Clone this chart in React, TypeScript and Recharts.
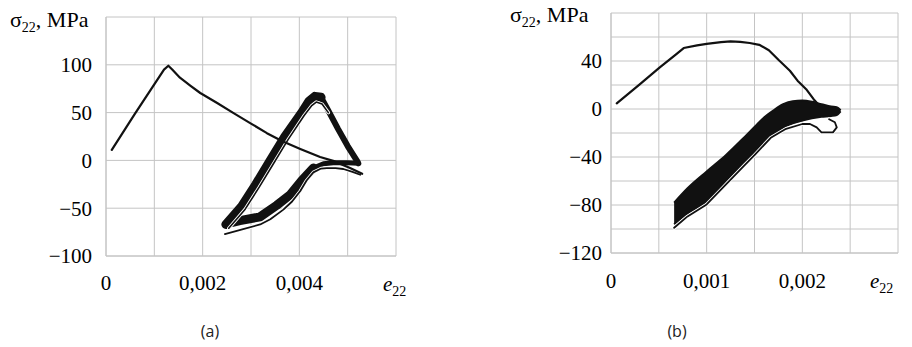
import React from 'react';
import { ComposedChart, Line, Area, XAxis, YAxis, CartesianGrid } from 'recharts';

// ---------- chart (a) ----------
const xTicksA = [0, 0.001, 0.002, 0.003, 0.004, 0.005, 0.006];
const xLabelsA = ['0', '', '0,002', '', '0,004', '', ''];
const yTicksA = [-100, -50, 0, 50, 100, 150];
const yLabelsA = ['−100', '−50', '0', '50', '100', ''];

const monoAx = [0.00012, 0.0006, 0.0012, 0.00129, 0.00137, 0.00153, 0.00175, 0.00195, 0.0023, 0.00264, 0.003, 0.00333, 0.00365, 0.00402, 0.00443, 0.0047, 0.00505, 0.0053];
const monoAy = [11, 49, 95, 99, 95, 86.5, 78, 70.5, 60, 49.5, 38.5, 28.5, 20, 12, 3.5, -0.5, -8, -14];

// cyclic band (many cycles overlapping): lower return + rising branch
const bandUpX = [0.00429, 0.00405, 0.00381, 0.00353, 0.00319, 0.00277, 0.00253, 0.00248, 0.00281, 0.0031, 0.0034, 0.0037, 0.00405, 0.0042, 0.00432, 0.00445];
const bandUpY = [-8, -21, -36, -47, -59, -63, -66, -67, -48, -25, 0, 25, 50, 62, 67, 66];
// falling branch from the peak to the right tip
const bandDownX = [0.00432, 0.00445, 0.0046, 0.0048, 0.005, 0.0052, 0.00522];
const bandDownY = [67, 66, 52, 33, 15, -1, -3];
// return along zero from the tip
const bandRetX = [0.00522, 0.005, 0.0047, 0.0045, 0.00429];
const bandRetY = [-3, -2.5, -2.5, -3.5, -8];

const innerAx = [0.00254, 0.00288, 0.00317, 0.00347, 0.00377, 0.0041, 0.00425, 0.00435, 0.00447, 0.0046];
const innerAy = [-71, -51, -28, -3, 22, 47, 57, 61, 59, 50];

const outerAx = [0.00246, 0.0028, 0.00319, 0.0034, 0.00367, 0.00385, 0.00402, 0.00415, 0.00429, 0.00445, 0.00457, 0.00475, 0.00491, 0.0051, 0.00526];
const outerAy = [-77, -72.5, -67, -61.5, -51.5, -43, -32, -21, -12.5, -8.5, -8, -8, -9, -12, -15];

// ---------- chart (b) ----------
const xTicksB = [0, 0.0005, 0.001, 0.0015, 0.002, 0.0025, 0.003];
const xLabelsB = ['0', '', '0,001', '', '0,002', '', ''];
const yTicksB = [-120, -100, -80, -60, -40, -20, 0, 20, 40, 60, 80];
const yLabelsB = ['−120', '', '−80', '', '−40', '', '0', '', '40', '', ''];

const monoBx = [0.00006, 0.0003, 0.00051, 0.00068, 0.00076, 0.0009, 0.001, 0.00115, 0.00125, 0.00135, 0.00145, 0.00155, 0.00165, 0.00175, 0.00187, 0.00195, 0.00204, 0.00212, 0.00218];
const monoBy = [4.7, 20.5, 34.7, 45.5, 50.8, 53, 54.2, 55.8, 56.3, 56, 55, 53.5, 49, 41, 31.9, 23.6, 16.5, 8, 2.8];

const bandBx = [0.00066, 0.0008, 0.001, 0.0012, 0.0014, 0.0015, 0.0016, 0.0017, 0.0018, 0.0019, 0.002, 0.0021, 0.0022, 0.0023, 0.00236, 0.0024];
const bandBlo = [-96, -87, -77, -60, -44, -36, -28, -21, -15.5, -12, -9.7, -7.8, -6.5, -5.8, -5, -2];
const bandBhi = [-78, -66, -52, -38.5, -23, -15, -7, -1, 4, 6.5, 7, 6, 4, 2, 1.5, -1];

const lowBx = [0.00066, 0.0008, 0.001, 0.0012, 0.0014, 0.0015, 0.00167, 0.00183, 0.002, 0.00208, 0.00215, 0.0022, 0.00232, 0.00236, 0.00234, 0.00228];
const lowBy = [-99, -89.5, -79.5, -63, -46.5, -38.5, -24, -16.5, -12.5, -12.5, -15.3, -19.5, -19.5, -15.3, -11, -8.5];

const zip = (xs: number[], ys: number[]) => xs.map((x, i) => ({ x, y: ys[i] }));

const monoA = zip(monoAx, monoAy);
const bandUp = zip(bandUpX, bandUpY);
const bandDown = zip(bandDownX, bandDownY);
const bandRet = zip(bandRetX, bandRetY);
const innerA = zip(innerAx, innerAy);
const outerA = zip(outerAx, outerAy);

const monoB = zip(monoBx, monoBy);
const bandB = bandBx.map((x, i) => ({ x, r: [bandBlo[i], bandBhi[i]] }));
const lowB = zip(lowBx, lowBy);

const GRID = '#c4c4c4';
const INK = '#111';
const SERIF = 'Liberation Serif';
const tickStyle = { fontSize: 21, fill: '#000', fontFamily: SERIF };

const lbl = (ticks: number[], labels: string[]) => (v: number) => {
  const i = ticks.indexOf(v);
  return i >= 0 ? labels[i] : '';
};

const common = { dot: false, isAnimationActive: false, type: 'linear' as const, activeDot: false, strokeLinejoin: 'round' as const, strokeLinecap: 'round' as const };

export default function App() {
  return (
    <div style={{ position: 'absolute', left: 0, top: 0, width: 912, height: 347, background: '#fff' }}>
      <div style={{ position: 'absolute', left: 0, top: 0 }}>
        <ComposedChart width={420} height={300} margin={{ top: 17, right: 24, bottom: 14, left: 0 }}>
          <CartesianGrid stroke={GRID} strokeWidth={1} />
          <XAxis type="number" dataKey="x" domain={[0, 0.006]} ticks={xTicksA} interval={0} allowDataOverflow
            tickFormatter={lbl(xTicksA, xLabelsA)} tickLine={false} tickSize={0} tickMargin={19} height={30}
            axisLine={{ stroke: GRID }} tick={tickStyle} />
          <YAxis type="number" dataKey="y" domain={[-100, 150]} ticks={yTicksA} interval={0} allowDataOverflow
            tickFormatter={lbl(yTicksA, yLabelsA)} tickLine={false} tickSize={0} tickMargin={14} width={106}
            axisLine={{ stroke: GRID }} tick={tickStyle} />
          <Line {...common} data={bandUp} dataKey="y" stroke={INK} strokeWidth={9} />
          <Line {...common} data={bandDown} dataKey="y" stroke={INK} strokeWidth={6} />
          <Line {...common} data={bandRet} dataKey="y" stroke={INK} strokeWidth={5} />
          <Line {...common} data={innerA} dataKey="y" stroke="#fff" strokeWidth={3.4} />
          <Line {...common} data={innerA} dataKey="y" stroke={INK} strokeWidth={1.6} />
          <Line {...common} data={outerA} dataKey="y" stroke="#fff" strokeWidth={3.4} />
          <Line {...common} data={outerA} dataKey="y" stroke={INK} strokeWidth={1.8} />
          <Line {...common} data={monoA} dataKey="y" stroke={INK} strokeWidth={2.2} />
        </ComposedChart>
      </div>
      <div style={{ position: 'absolute', left: 500, top: 0 }}>
        <ComposedChart width={412} height={300} data={bandB} margin={{ top: 13, right: 14, bottom: 17, left: 0 }}>
          <CartesianGrid stroke={GRID} strokeWidth={1} />
          <XAxis type="number" dataKey="x" domain={[0, 0.003]} ticks={xTicksB} interval={0} allowDataOverflow
            tickFormatter={lbl(xTicksB, xLabelsB)} tickLine={false} tickSize={0} tickMargin={20} height={30}
            axisLine={{ stroke: GRID }} tick={tickStyle} />
          <YAxis type="number" domain={[-120, 80]} ticks={yTicksB} interval={0} allowDataOverflow
            tickFormatter={lbl(yTicksB, yLabelsB)} tickLine={false} tickSize={0} tickMargin={9} width={111}
            axisLine={{ stroke: GRID }} tick={tickStyle} />
          <Area dataKey="r" type="monotone" stroke={INK} strokeWidth={2} fill={INK} fillOpacity={1} isAnimationActive={false} dot={false} activeDot={false} />
          <Line {...common} data={lowB} dataKey="y" stroke="#fff" strokeWidth={3.5} />
          <Line {...common} data={lowB} dataKey="y" stroke={INK} strokeWidth={1.8} />
          <Line {...common} data={monoB} dataKey="y" stroke={INK} strokeWidth={2.2} />
        </ComposedChart>
      </div>
      <svg width={912} height={347} style={{ position: 'absolute', left: 0, top: 0, pointerEvents: 'none' }}>
        <g fontFamily={SERIF} fill="#000">
          <text x={10} y={27} fontSize={22}>σ<tspan fontSize={14} dy={5}>22</tspan><tspan dy={-5}>, MPa</tspan></text>
          <text x={510} y={22} fontSize={22}>σ<tspan fontSize={14} dy={5}>22</tspan><tspan dy={-5}>, MPa</tspan></text>
          <text x={383} y={291} fontSize={21} fontStyle="italic">e<tspan fontSize={14} fontStyle="normal" dy={5}>22</tspan></text>
          <text x={870} y={288} fontSize={21} fontStyle="italic">e<tspan fontSize={14} fontStyle="normal" dy={5}>22</tspan></text>
        </g>
        <g fontFamily="Open Sans" fontSize={16} fill="#222" textAnchor="middle">
          <text x={210} y={337}>(a)</text>
          <text x={677} y={337}>(b)</text>
        </g>
      </svg>
    </div>
  );
}
